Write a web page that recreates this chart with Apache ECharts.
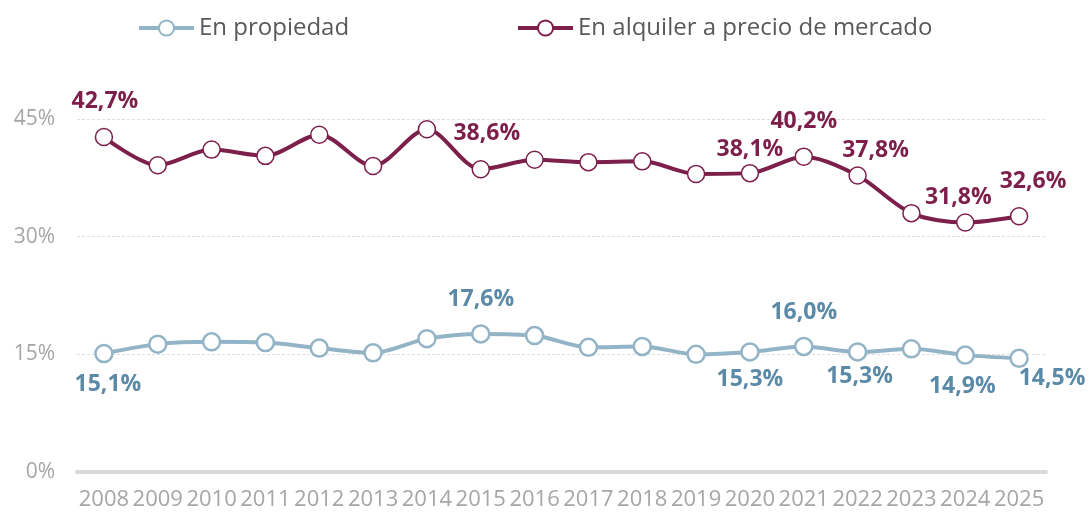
<!DOCTYPE html>
<html>
<head>
<meta charset="utf-8">
<script src="https://cdn.jsdelivr.net/npm/echarts@6/dist/echarts.min.js"></script>
<style>
  html, body { margin: 0; padding: 0; background: #fff; }
  #chart { width: 1091px; height: 512px; }
</style>
</head>
<body>
<div id="chart"></div>
<script>
// data
const years = ['2008', '2009', '2010', '2011', '2012', '2013', '2014', '2015', '2016',
  '2017', '2018', '2019', '2020', '2021', '2022', '2023', '2024', '2025'];
const enPropiedad = [15.1, 16.3, 16.6, 16.5, 15.8, 15.2, 17.0, 17.6, 17.4,
  15.9, 16.0, 15.0, 15.3, 16.0, 15.3, 15.7, 14.9, 14.5];
const enAlquiler = [42.7, 39.1, 41.1, 40.3, 43.0, 39.0, 43.7, 38.6, 39.8,
  39.5, 39.6, 38.0, 38.1, 40.2, 37.8, 33.0, 31.8, 32.6];
const yTicks = [0, 15, 30, 45];

// which points carry a value label, and where it sits relative to the marker
const alquilerLabelOffsets = { 2008: [1, -36], 2015: [6, -36], 2020: [0, -24], 2021: [0, -35], 2022: [18, -25], 2024: [-7, -25], 2025: [14, -35] };
const propiedadLabelOffsets = { 2008: [4, 31], 2015: [0, -34], 2020: [0, 27], 2021: [0, -34], 2022: [2, 24], 2024: [-3, 31], 2025: [33, 20] };

const RED = '#7d1f4b';
const BLUE_LINE = '#93b4c6';
const BLUE_TEXT = '#5b8aa8';
const FONT = '"Open Sans", sans-serif';

const fmt = v => v.toFixed(1).replace('.', ',') + '%';

// build series points, attaching a label only where the reference shows one
const withLabels = (values, offsets, color) => values.map((v, i) => {
  const off = offsets[years[i]];
  if (!off) return v;
  return {
    value: v,
    label: {
      show: true,
      position: 'inside',
      offset: off,
      formatter: p => fmt(p.value),
      color: color,
      fontFamily: FONT,
      fontWeight: 'bold',
      fontSize: 23
    }
  };
});

const legendBase = {
  top: 16,
  padding: 0,
  itemWidth: 55, itemHeight: 19, itemGap: 4,
  lineStyle: { width: 4 },
  textStyle: { fontSize: 24, color: '#595959', fontFamily: FONT }
};

const chart = echarts.init(document.getElementById('chart'));

chart.setOption({
  animation: false,
  textStyle: { fontFamily: FONT },
  legend: [
    Object.assign({ left: 137, data: ['En propiedad'] }, legendBase),
    Object.assign({ left: 516, data: ['En alquiler a precio de mercado'] }, legendBase)
  ],
  grid: { left: 77, right: 45, top: 119, bottom: 40, containLabel: false },
  xAxis: {
    type: 'category',
    data: years,
    boundaryGap: true,
    axisLine: { lineStyle: { color: '#d9d9d9', width: 4 } },
    axisTick: { show: false },
    axisLabel: { color: '#a6a6a6', fontSize: 22, margin: 17, fontFamily: FONT, interval: 0 }
  },
  yAxis: {
    type: 'value',
    min: yTicks[0],
    max: yTicks[yTicks.length - 1],
    interval: 15,
    axisLine: { show: false },
    axisTick: { show: false },
    axisLabel: { color: '#a6a6a6', fontSize: 21, margin: 22, fontFamily: FONT, formatter: '{value}%' },
    splitLine: { lineStyle: { color: '#dedede', type: [3, 2], width: 1 } }
  },
  series: [
    {
      name: 'En propiedad',
      type: 'line',
      smooth: 0.3,
      symbol: 'circle',
      symbolSize: 17,
      lineStyle: { color: BLUE_LINE, width: 4 },
      itemStyle: { color: '#fff', borderColor: BLUE_LINE, borderWidth: 2.5 },
      data: withLabels(enPropiedad, propiedadLabelOffsets, BLUE_TEXT)
    },
    {
      name: 'En alquiler a precio de mercado',
      type: 'line',
      smooth: 0.3,
      symbol: 'circle',
      symbolSize: 17,
      lineStyle: { color: RED, width: 4 },
      itemStyle: { color: '#fff', borderColor: RED, borderWidth: 1.5 },
      data: withLabels(enAlquiler, alquilerLabelOffsets, RED)
    }
  ]
});
</script>
</body>
</html>
